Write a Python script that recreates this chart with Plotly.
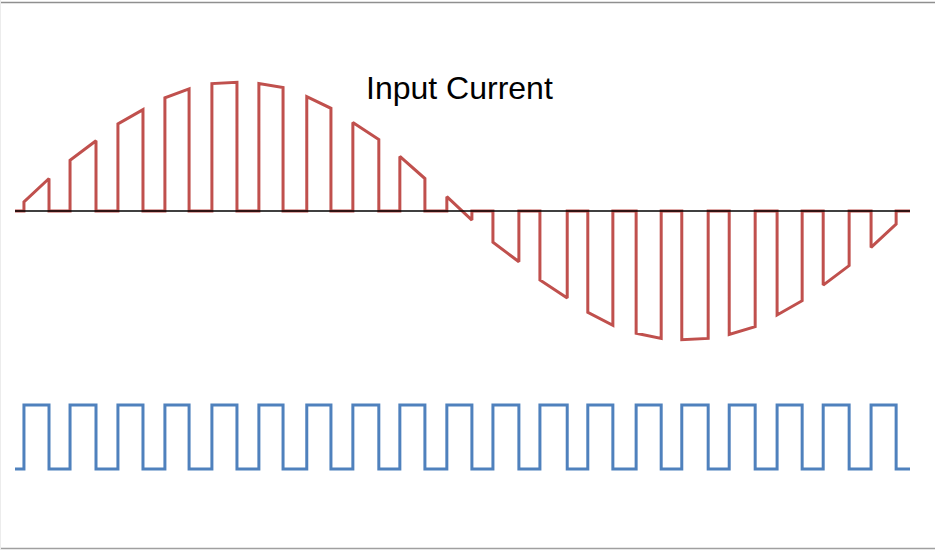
import plotly.graph_objects as go

# ---- data (time in ms, current in A, gate 0/1) ----
t_start = 0.0
t_end = 20.0
pulse_on = [0.20, 1.23, 2.30, 3.35, 4.40, 5.45, 6.52, 7.55, 8.60, 9.65,
            10.68, 11.73, 12.80, 13.88, 14.90, 15.96, 17.03, 18.06, 19.13]
pulse_off = [0.76, 1.81, 2.86, 3.89, 4.96, 5.99, 7.06, 8.13, 9.16, 10.21,
             11.26, 12.34, 13.36, 14.44, 15.49, 16.54, 17.59, 18.64, 19.69]
current_at_on = [0.7, 3.9, 6.7, 8.7, 9.8, 9.8, 8.8, 6.8, 4.2, 1.1,
                 -2.4, -5.3, -7.8, -9.4, -9.9, -9.5, -8.0, -5.7, -2.8]
current_at_off = [2.5, 5.4, 7.8, 9.4, 9.9, 9.5, 7.9, 5.5, 2.5, -0.7,
                  -3.9, -6.7, -8.8, -9.8, -9.8, -8.9, -6.9, -4.2, -1.0]
gate_low = 0
gate_high = 1
title_text = "Input Current"

# ---- build traces from the data ----
red_x, red_y = [t_start], [0.0]
blue_x, blue_y = [t_start], [gate_low]
for on, off, a, b in zip(pulse_on, pulse_off, current_at_on, current_at_off):
    red_x += [on, on, off, off]
    red_y += [0.0, a, b, 0.0]
    blue_x += [on, on, off, off]
    blue_y += [gate_low, gate_high, gate_high, gate_low]
red_x.append(t_end); red_y.append(0.0)
blue_x.append(t_end); blue_y.append(gate_low)

RED = "#C0504D"
BLUE = "#4F81BD"

fig = go.Figure()
fig.add_trace(go.Scatter(x=red_x, y=red_y, mode="lines",
                         line=dict(color=RED, width=3), yaxis="y",
                         hoverinfo="skip"))
fig.add_trace(go.Scatter(x=blue_x, y=blue_y, mode="lines",
                         line=dict(color=BLUE, width=3), yaxis="y2",
                         hoverinfo="skip"))
fig.add_trace(go.Scatter(x=[t_start, t_end], y=[0, 0], mode="lines",
                         line=dict(color="#000000", width=1.3), yaxis="y",
                         hoverinfo="skip"))

W, H = 935, 550
px_per_ms = 895 / 20.0
x0 = t_start - 15 / px_per_ms
x1 = x0 + W / px_per_ms

# red axis: zero at y=211 px, 13 px per A
span_r = H / 13.0
frac_r = (H - 211) / H
lo_r = -frac_r * span_r
# blue axis: low at 469 px, high at 405 px
span_b = H / 64.0
frac_b = (H - 469) / H
lo_b = -frac_b * span_b

fig.update_layout(
    width=W, height=H,
    margin=dict(l=0, r=0, t=0, b=0),
    paper_bgcolor="white", plot_bgcolor="white",
    showlegend=False,
    xaxis=dict(range=[x0, x1], visible=False, fixedrange=True),
    yaxis=dict(range=[lo_r, lo_r + span_r], visible=False, fixedrange=True),
    yaxis2=dict(range=[lo_b, lo_b + span_b], visible=False, overlaying="y",
                fixedrange=True),
    annotations=[dict(text=title_text, x=459 / W, y=1 - 88 / H,
                      xref="paper", yref="paper", showarrow=False,
                      xanchor="center", yanchor="middle",
                      font=dict(family="Liberation Sans, Arial, sans-serif",
                                size=32, color="#000000"))],
    shapes=[
        dict(type="line", xref="paper", yref="paper", x0=0, x1=1,
             y0=1 - 2.5 / H, y1=1 - 2.5 / H,
             line=dict(color="#8f8f8f", width=1.5)),
        dict(type="line", xref="paper", yref="paper", x0=0, x1=1,
             y0=1.5 / H, y1=1.5 / H,
             line=dict(color="#a0a0a0", width=1.5)),
        dict(type="line", xref="paper", yref="paper", x0=0.5 / W, x1=0.5 / W,
             y0=0, y1=1, line=dict(color="#ececec", width=1)),
    ],
)

fig.write_html(
    "out.html",
    config={"displayModeBar": False},
    post_script="document.body.style.margin='0px';"
                "document.body.style.overflow='hidden';",
)
